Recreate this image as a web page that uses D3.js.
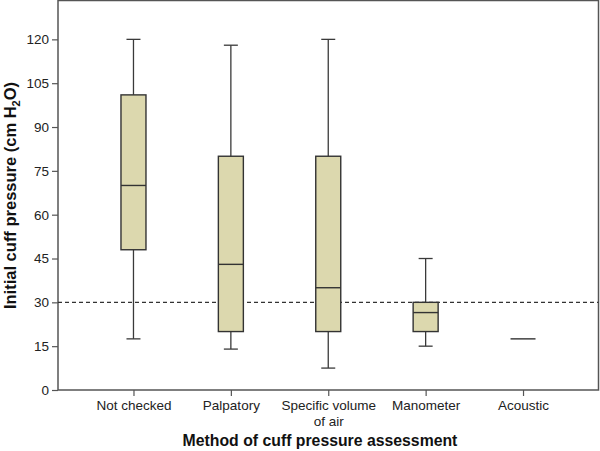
<!DOCTYPE html>
<html><head><meta charset="utf-8">
<script src="https://cdn.jsdelivr.net/npm/d3@7"></script>
<style>body{margin:0;background:#fff}svg{display:block}</style>
</head><body>
<svg id="chart" width="600" height="451"></svg>
<script>
const categories = ["Not checked", "Palpatory", "Specific volume of air", "Manometer", "Acoustic"];
const whiskerLow  = [17.5, 14, 7.5, 15, 17.5];
const q1          = [48, 20, 20, 20, 17.5];
const median      = [70, 43, 35, 26.5, 17.5];
const q3          = [101, 80, 80, 30, 17.5];
const whiskerHigh = [120, 118, 120, 45, 17.5];
const yTicks = [0, 15, 30, 45, 60, 75, 90, 105, 120];
const refValue = 30;

const svg = d3.select("#chart");
const L = 58, R = 598.5, T = 0.5, B = 390;
const font = "'Liberation Sans', Arial, sans-serif";
const ink = "#3a3a3a";

const y = d3.scaleLinear().domain([0, 133.3]).range([B, T]);
const x = d3.scalePoint().domain(categories).range([L, R]).padding(0.775);
const boxW = 25, capW = 14;

// frame
svg.append("rect").attr("x", L).attr("y", T).attr("width", R - L).attr("height", B - T)
  .attr("fill", "none").attr("stroke", "#555").attr("stroke-width", 1.5);

// y axis
const ya = svg.append("g").attr("transform", `translate(${L},0)`)
  .call(d3.axisLeft(y).tickValues(yTicks).tickSize(6).tickPadding(3));
ya.select(".domain").remove();
ya.selectAll("line").attr("stroke", "#555").attr("stroke-width", 1.2);
ya.selectAll("text").attr("font-family", font).attr("font-size", 13.5).attr("fill", "#222");

// x axis
const xa = svg.append("g").attr("transform", `translate(0,${B})`)
  .call(d3.axisBottom(x).tickSize(6).tickPadding(4));
xa.select(".domain").remove();
xa.selectAll("line").attr("stroke", "#555").attr("stroke-width", 1.2);
xa.selectAll("text").attr("font-family", font).attr("font-size", 13.5).attr("fill", "#222")
  .each(function(d) {
    const t = d3.select(this);
    if (d === "Specific volume of air") {
      t.text(null);
      t.append("tspan").attr("x", 0).attr("dy", "0.71em").text("Specific volume");
      t.append("tspan").attr("x", 0).attr("dy", "1.2em").text("of air");
      t.attr("dy", null);
    }
  });

// reference line
svg.append("line").attr("x1", L).attr("x2", R).attr("y1", y(refValue)).attr("y2", y(refValue))
  .attr("stroke", "#333").attr("stroke-width", 1.2).attr("stroke-dasharray", "4,3");

// boxes
const data = categories.map((c, i) => ({c, lo: whiskerLow[i], q1: q1[i], med: median[i], q3: q3[i], hi: whiskerHigh[i]}));
const g = svg.append("g");
data.forEach(d => {
  const cx = x(d.c);
  if (d.hi > d.q3) {
    g.append("line").attr("x1", cx).attr("x2", cx).attr("y1", y(d.q3)).attr("y2", y(d.hi)).attr("stroke", ink).attr("stroke-width", 1.3);
    g.append("line").attr("x1", cx - capW/2).attr("x2", cx + capW/2).attr("y1", y(d.hi)).attr("y2", y(d.hi)).attr("stroke", ink).attr("stroke-width", 1.3);
  }
  if (d.lo < d.q1) {
    g.append("line").attr("x1", cx).attr("x2", cx).attr("y1", y(d.q1)).attr("y2", y(d.lo)).attr("stroke", ink).attr("stroke-width", 1.3);
    g.append("line").attr("x1", cx - capW/2).attr("x2", cx + capW/2).attr("y1", y(d.lo)).attr("y2", y(d.lo)).attr("stroke", ink).attr("stroke-width", 1.3);
  }
  if (d.q3 > d.q1) {
    g.append("rect").attr("x", cx - boxW/2).attr("y", y(d.q3)).attr("width", boxW).attr("height", y(d.q1) - y(d.q3))
      .attr("fill", "#dcd8ae").attr("stroke", "#333").attr("stroke-width", 1.4);
  }
  g.append("line").attr("x1", cx - boxW/2).attr("x2", cx + boxW/2).attr("y1", y(d.med)).attr("y2", y(d.med))
    .attr("stroke", "#333").attr("stroke-width", 1.4);
});

// axis titles
svg.append("text").attr("transform", `translate(15.5,195.5) rotate(-90)`).attr("text-anchor", "middle")
  .attr("font-family", font).attr("font-size", 16.5).attr("font-weight", "bold").attr("fill", "#111")
  .call(t => {
    t.append("tspan").text("Initial cuff pressure (cm H");
    t.append("tspan").attr("font-size", 11).attr("dy", 4).text("2");
    t.append("tspan").attr("dy", -4).text("O)");
  });
svg.append("text").attr("x", 320).attr("y", 446).attr("text-anchor", "middle")
  .attr("font-family", font).attr("font-size", 15.8).attr("font-weight", "bold").attr("fill", "#111")
  .text("Method of cuff pressure assessment");
</script>
</body></html>
